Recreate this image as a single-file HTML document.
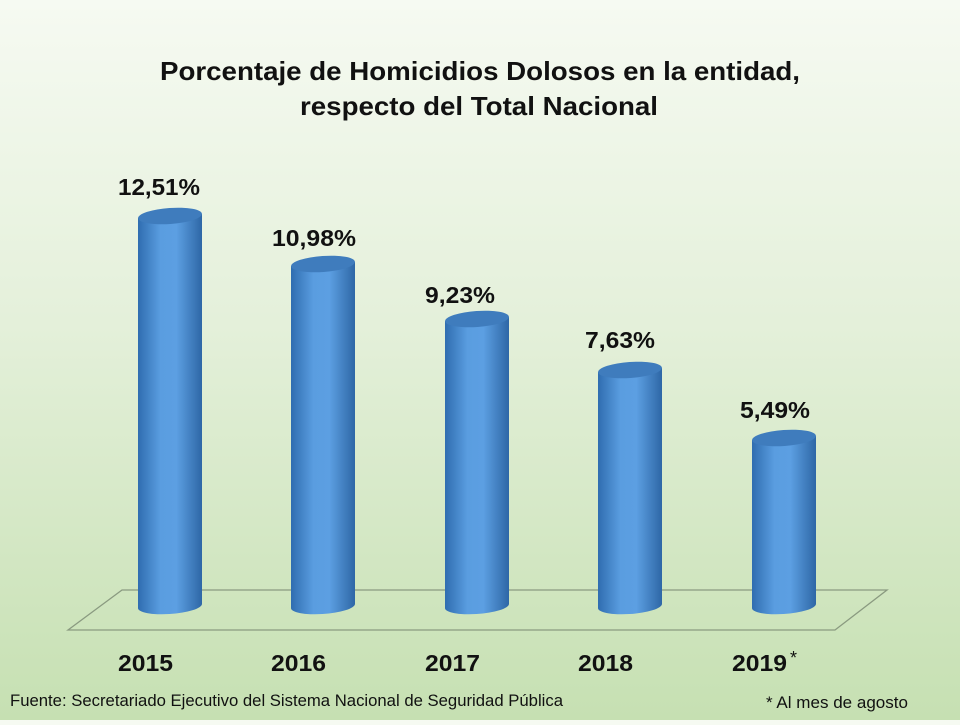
<!DOCTYPE html>
<html><head><style>
body{margin:0;width:960px;height:720px;overflow:hidden;background:linear-gradient(#f6faf2 0%,#e4f0da 45%,#c6e0b2 100%);font-family:"Liberation Sans",sans-serif;}
</style></head><body>
<svg width="960" height="720" xmlns="http://www.w3.org/2000/svg">
<defs>
<linearGradient id="cyl" x1="0" x2="1" y1="0" y2="0">
<stop offset="0" stop-color="#2f6db0"/><stop offset="0.35" stop-color="#5a9de0"/><stop offset="0.6" stop-color="#5c9fe2"/><stop offset="1" stop-color="#2e67a6"/>
</linearGradient>
</defs>
<text x="160" y="80" font-size="26" font-weight="bold" fill="#111" textLength="640" lengthAdjust="spacingAndGlyphs">Porcentaje de Homicidios Dolosos en la entidad,</text>
<text x="300" y="115" font-size="26" font-weight="bold" fill="#111" textLength="358" lengthAdjust="spacingAndGlyphs">respecto del Total Nacional</text>
<polygon points="68,630 122,590 887,590 835,630" fill="none" stroke="#8a9a80" stroke-width="1.3"/>
<g font-size="23" font-weight="bold" fill="#111">
<path d="M138,218 L138,608 A32,8 -4 0 0 202,604 L202,214 Z" fill="url(#cyl)"/>
<ellipse cx="170" cy="216" rx="32" ry="8" transform="rotate(-4 170 216)" fill="#3f7cbd"/>
<text x="118" y="195" textLength="82" lengthAdjust="spacingAndGlyphs">12,51%</text>
<path d="M291,266 L291,608 A32,8 -4 0 0 355,604 L355,262 Z" fill="url(#cyl)"/>
<ellipse cx="323" cy="264" rx="32" ry="8" transform="rotate(-4 323 264)" fill="#3f7cbd"/>
<text x="272" y="246" textLength="84" lengthAdjust="spacingAndGlyphs">10,98%</text>
<path d="M445,321 L445,608 A32,8 -4 0 0 509,604 L509,317 Z" fill="url(#cyl)"/>
<ellipse cx="477" cy="319" rx="32" ry="8" transform="rotate(-4 477 319)" fill="#3f7cbd"/>
<text x="425" y="303" textLength="70" lengthAdjust="spacingAndGlyphs">9,23%</text>
<path d="M598,372 L598,608 A32,8 -4 0 0 662,604 L662,368 Z" fill="url(#cyl)"/>
<ellipse cx="630" cy="370" rx="32" ry="8" transform="rotate(-4 630 370)" fill="#3f7cbd"/>
<text x="585" y="348" textLength="70" lengthAdjust="spacingAndGlyphs">7,63%</text>
<path d="M752,440 L752,608 A32,8 -4 0 0 816,604 L816,436 Z" fill="url(#cyl)"/>
<ellipse cx="784" cy="438" rx="32" ry="8" transform="rotate(-4 784 438)" fill="#3f7cbd"/>
<text x="740" y="418" textLength="70" lengthAdjust="spacingAndGlyphs">5,49%</text>
<text x="118" y="671" textLength="55" lengthAdjust="spacingAndGlyphs">2015</text>
<text x="271" y="671" textLength="55" lengthAdjust="spacingAndGlyphs">2016</text>
<text x="425" y="671" textLength="55" lengthAdjust="spacingAndGlyphs">2017</text>
<text x="578" y="671" textLength="55" lengthAdjust="spacingAndGlyphs">2018</text>
<text x="732" y="671" textLength="55" lengthAdjust="spacingAndGlyphs">2019</text>
</g>
<text x="790" y="664" font-size="18" fill="#111">*</text>
<text x="10" y="706" font-size="17" fill="#111" textLength="553" lengthAdjust="spacingAndGlyphs">Fuente: Secretariado Ejecutivo del Sistema Nacional de Seguridad Pública</text>
<text x="766" y="708" font-size="17" fill="#111" textLength="142" lengthAdjust="spacingAndGlyphs">* Al mes de agosto</text>
</svg>
</body></html>
